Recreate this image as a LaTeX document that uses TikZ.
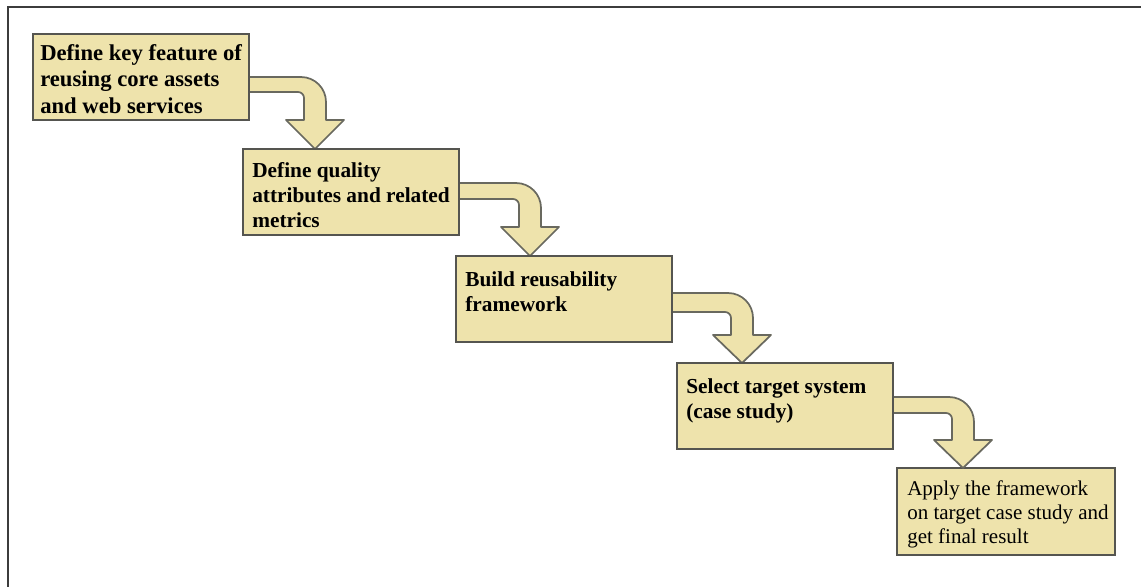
\documentclass[tikz,border=0pt]{standalone}
\usepackage{fontspec}
\setmainfont{Liberation Serif}
\usetikzlibrary{calc}
\definecolor{boxfill}{RGB}{238,227,172}
\definecolor{boxline}{RGB}{85,85,80}
\definecolor{arrline}{RGB}{105,105,95}
\definecolor{framecol}{RGB}{60,60,60}
\newcommand\mybent[6]{%
  \path ($(#1.north east)+(0,#3)$) coordinate (#1-top)
        ($(#1.north east)+(0,#4)$) coordinate (#1-bot)
        ($(#2.north west)+(#5,0)$) coordinate (#1-tip);
  \filldraw[arrowshape] (#1-top) -- ($(#1-top -| #1-tip)+(-14,0)$)
    arc[start angle=90,end angle=0,radius=18.75pt]
    -- ($(#1-tip)+(11,-#6)$) -- ($(#1-tip)+(29,-#6)$) -- (#1-tip)
    -- ($(#1-tip)+(-29,-#6)$) -- ($(#1-tip)+(-11,-#6)$)
    -- ($(#1-bot -| #1-tip)+(-11,6)$)
    arc[start angle=0,end angle=90,radius=4.5pt]
    -- (#1-bot) -- cycle;
}
\begin{document}
\begin{tikzpicture}[x=0.75pt,y=-0.75pt,
  stepbox/.style={draw=boxline, fill=boxfill, line width=2pt, rectangle,
    inner sep=0pt, outer sep=0pt, anchor=north west,
    minimum width=162pt, minimum height=64.5pt},
  arrowshape/.style={draw=arrline, fill=boxfill, line width=1.3pt, line join=round},
  txt/.style={anchor=base west, align=left, inner sep=0pt, font=\bfseries},
  bigtxt/.style={font=\bfseries\fontsize{17}{19.8}\selectfont},
  midtxt/.style={font=\bfseries\fontsize{16}{18.6}\selectfont},
  plaintxt/.style={font=\fontsize{15.75}{17.9}\selectfont}]
\useasboundingbox (0,0) rectangle (1141,586);
\begin{scope}
\clip (0,0) rectangle (1141,586);
\draw[framecol, line width=1.5pt] (8,7) rectangle (1170,620);
\end{scope}
% boxes
\node[stepbox] (b1) at (33,34) {};
\node[stepbox] (b2) at (243,149) {};
\node[stepbox] (b3) at (456,256) {};
\node[stepbox] (b4) at (677,363) {};
\node[stepbox, minimum width=163.5pt, minimum height=65.25pt] (b5) at (897,468) {};
% arrows
\mybent{b1}{b2}{43}{58}{72}{29}
\mybent{b2}{b3}{34}{50}{74}{29}
\mybent{b3}{b4}{37}{56}{65}{28}
\mybent{b4}{b5}{34}{50}{66}{28}
% redraw boxes above arrow ends
\node[stepbox] at (b1.north west) {};
\node[stepbox] at (b2.north west) {};
\node[stepbox] at (b3.north west) {};
\node[stepbox] at (b4.north west) {};
% texts (anchor base = last line's baseline)
\node[txt, bigtxt] (t1) at ($(b1.north west)+(7,79)$) {Define key feature of\\reusing core assets\\and web services};
\node[txt, midtxt] (t2) at ($(b2.north west)+(9,78)$) {Define quality\\attributes and related\\metrics};
\node[txt, midtxt] (t3) at ($(b3.north west)+(9,55.5)$) {Build reusability\\framework};
\node[txt, midtxt] (t4) at ($(b4.north west)+(9,55)$) {Select target system\\(case study)};
\node[txt, plaintxt] (t5) at ($(b5.north west)+(10,75)$) {Apply the framework\\on target case study and\\get final result};
\end{tikzpicture}
\end{document}
